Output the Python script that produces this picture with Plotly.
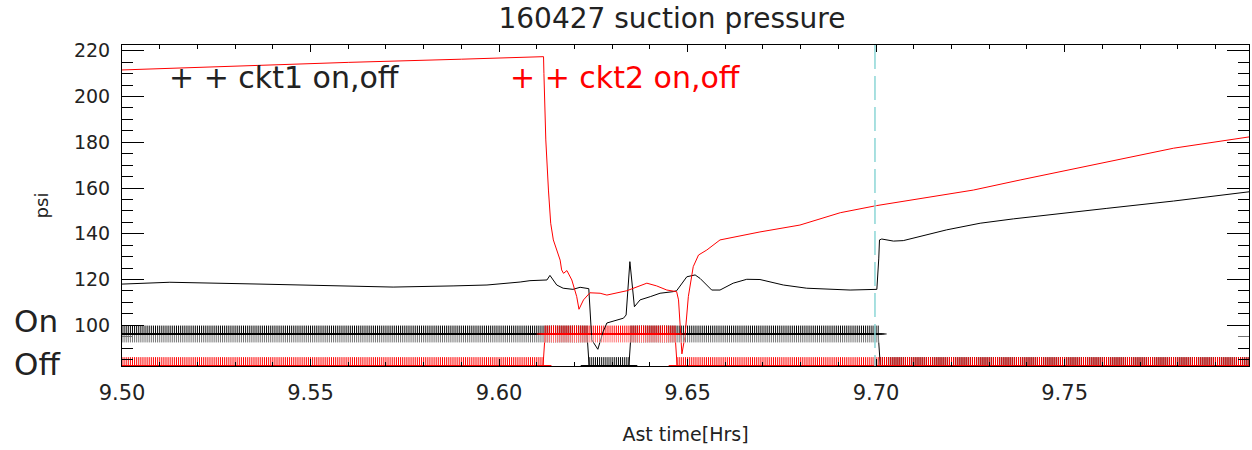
import numpy as np
import plotly.graph_objects as go

# ---------------- data ----------------
# ckt1 suction pressure (black)
ckt1_time = [9.5000, 9.5127, 9.5366, 9.5525, 9.5719, 9.5878, 9.5968, 9.6056, 9.6082,
             9.6127, 9.6135, 9.6153, 9.6170, 9.6196, 9.6215, 9.6238, 9.6246, 9.6262,
             9.6276, 9.6286, 9.6330, 9.6337, 9.6347, 9.6359, 9.6374, 9.6401, 9.6427,
             9.6462, 9.6471, 9.6498, 9.6520, 9.6533, 9.6564, 9.6586, 9.6621, 9.6657,
             9.6692, 9.6754, 9.6816, 9.6931, 9.7002, 9.7007, 9.7009, 9.7015, 9.7046,
             9.7072, 9.7187, 9.7276, 9.7364, 9.7612, 9.7789, 9.7992]
ckt1_psi = [118.0, 118.8, 118.0, 117.5, 116.7, 117.2, 117.6, 118.9, 119.5,
            119.8, 121.8, 117.6, 116.2, 115.7, 116.6, 116.0, 93.6, 89.5,
            97.2, 101.0, 103.1, 104.5, 127.8, 108.1, 111.1, 112.5, 114.0,
            114.7, 115.1, 121.2, 122.0, 120.5, 115.4, 115.4, 118.4, 120.1,
            120.0, 117.6, 116.2, 115.4, 115.7, 129.0, 137.3, 137.7, 136.8,
            137.0, 141.7, 144.6, 146.5, 151.1, 154.3, 158.4]

# ckt2 suction pressure (red)
ckt2_time = [9.5000, 9.5300, 9.5600, 9.5900, 9.6118, 9.6119, 9.6124, 9.6131, 9.6137,
             9.6144, 9.6153, 9.6162, 9.6166, 9.6171, 9.6180, 9.6193, 9.6206, 9.6212,
             9.6224, 9.6241, 9.6268, 9.6286, 9.6339, 9.6356, 9.6392, 9.6418, 9.6445,
             9.6471, 9.6476, 9.6485, 9.6493, 9.6502, 9.6515, 9.6529, 9.6551, 9.6586,
             9.6692, 9.6798, 9.6905, 9.7001, 9.7258, 9.7382, 9.7612, 9.7789, 9.7992]
ckt2_psi = [211.6, 213.3, 214.9, 216.3, 217.4, 210.1, 181.0, 159.1, 144.6,
            137.3, 132.9, 128.5, 124.2, 122.7, 123.9, 119.8, 112.5, 107.0,
            111.1, 114.2, 114.0, 113.2, 115.1, 116.2, 118.4, 117.2, 115.4,
            114.7, 111.1, 87.5, 95.0, 112.5, 125.6, 130.7, 132.9, 137.3,
            140.8, 143.8, 149.2, 152.3, 159.1, 163.5, 171.5, 177.4, 182.4]

# compressor on/off flags (plotted at two fixed levels)
flag_sample_step_hr = 2.0 / 3600.0
flag_start_hr = 9.50
flag_end_hr = 9.80
on_level = 96.2
off_level = 82.4
ckt1_on_intervals = [(9.5000, 9.6236), (9.6347, 9.7007)]
ckt2_on_intervals = [(9.6119, 9.6472)]

event_time = 9.6997  # dashed marker line

x_tick_vals = [9.50, 9.55, 9.60, 9.65, 9.70, 9.75]
x_tick_text = ["9.50", "9.55", "9.60", "9.65", "9.70", "9.75"]
y_tick_vals = [100, 120, 140, 160, 180, 200, 220]
y_tick_text = ["100", "120", "140", "160", "180", "200", "220"]

x_range = [9.50, 9.7989]
y_range = [82.2, 222.5]

title_text = "160427 suction pressure"
x_title = "Ast time[Hrs]"
y_title = "psi"
legend1_text = "+ + ckt1 on,off"
legend2_text = "+ + ckt2 on,off"

# ---------------- build flag series ----------------
flag_time = np.arange(flag_start_hr, flag_end_hr, flag_sample_step_hr)


def flag_values(times, intervals):
    return [on_level if any(a <= t < b for a, b in intervals) else off_level for t in times]


ckt1_flag = flag_values(flag_time, ckt1_on_intervals)
ckt2_flag = flag_values(flag_time, ckt2_on_intervals)

FONT = "DejaVu Sans"
TXT = "#222222"

fig = go.Figure()

marker_common = dict(symbol="cross-thin", size=12)

fig.add_trace(go.Scatter(
    x=flag_time, y=ckt1_flag, mode="lines+markers",
    line=dict(color="black", width=1),
    marker=dict(**marker_common, color="black", line=dict(color="black", width=1)),
    hoverinfo="skip", showlegend=False))
fig.add_trace(go.Scatter(
    x=flag_time, y=ckt2_flag, mode="lines+markers",
    line=dict(color="red", width=1),
    marker=dict(**marker_common, color="red", line=dict(color="red", width=1)),
    hoverinfo="skip", showlegend=False))

fig.add_trace(go.Scatter(
    x=ckt1_time, y=ckt1_psi, mode="lines",
    line=dict(color="black", width=1), showlegend=False))
fig.add_trace(go.Scatter(
    x=ckt2_time, y=ckt2_psi, mode="lines",
    line=dict(color="red", width=1), showlegend=False))

# lighter lower half of the "on" marker band
fig.add_shape(type="rect", xref="paper", yref="y", x0=0, x1=1,
              y0=on_level - 3.8, y1=on_level - 0.5,
              fillcolor="rgba(255,255,255,0.45)", line=dict(width=0), layer="above")

# dashed event line
fig.add_shape(type="line", xref="x", yref="paper", x0=event_time, x1=event_time,
              y0=1, y1=0, line=dict(color="#8cd6d6", width=1.5, dash="24px,7px"),
              layer="above")

axis_common = dict(showline=True, linecolor="black", linewidth=1, mirror="allticks",
                   showgrid=False, zeroline=False, ticks="inside", tickcolor="black",
                   tickwidth=1, automargin=False)

fig.update_xaxes(**axis_common, range=x_range, tickmode="array",
                 tickvals=x_tick_vals, ticktext=x_tick_text, ticklen=7,
                 minor=dict(tickmode="linear", tick0=9.5, dtick=0.01, ticks="inside",
                            ticklen=4, tickcolor="black", tickwidth=1),
                 tickfont=dict(family=FONT, size=21, color=TXT),
                 ticklabelstandoff=8,
                 title=dict(text=x_title, font=dict(family=FONT, size=19, color=TXT),
                            standoff=23))
fig.update_yaxes(**axis_common, range=y_range, tickmode="array",
                 tickvals=y_tick_vals, ticktext=y_tick_text, ticklen=22,
                 minor=dict(tickmode="linear", tick0=0, dtick=5, ticks="inside",
                            ticklen=11, tickcolor="black", tickwidth=1),
                 tickfont=dict(family=FONT, size=19, color=TXT),
                 ticklabelstandoff=7,
                 title=dict(text=y_title, font=dict(family=FONT, size=18, color=TXT),
                            standoff=20))

fig.update_layout(
    width=1252, height=450,
    margin=dict(l=122, r=3, t=45, b=84, autoexpand=False),
    paper_bgcolor="white", plot_bgcolor="white",
    title=dict(text=title_text, x=0.488, xref="paper", xanchor="center",
               y=1 - 18 / 450, yanchor="middle",
               font=dict(family=FONT, size=28, color=TXT)),
    showlegend=False,
)

annotations = [
    dict(text=legend1_text, x=(167 - 122) / 1127, y=(366 - 77) / 321,
         font=dict(family=FONT, size=30, color="#222222")),
    dict(text=legend2_text, x=(508 - 122) / 1127, y=(366 - 77) / 321,
         font=dict(family=FONT, size=30, color="red")),
    dict(text="On", x=(12 - 122) / 1127, y=(366 - 321) / 321,
         font=dict(family=FONT, size=31, color=TXT)),
    dict(text="Off", x=(12 - 122) / 1127, y=(366 - 364) / 321,
         font=dict(family=FONT, size=31, color=TXT)),
]
for a in annotations:
    fig.add_annotation(xref="paper", yref="paper", xanchor="left", yanchor="middle",
                       showarrow=False, **a)

fig.write_html("out.html", config={"displayModeBar": False},
               post_script="document.body.style.margin='0';document.body.style.overflow='hidden';")
